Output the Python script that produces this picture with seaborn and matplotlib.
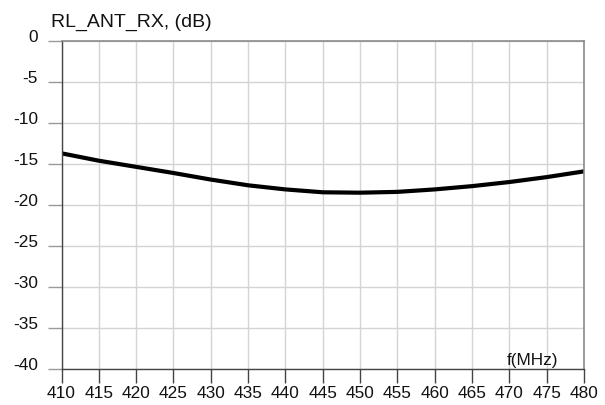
import matplotlib
matplotlib.use("Agg")
import matplotlib.pyplot as plt
from matplotlib.transforms import ScaledTranslation
import seaborn as sns
import pandas as pd

freq_mhz = [410, 415, 420, 425, 430, 435, 440, 445, 450, 455, 460, 465, 470, 475, 480]
rl_db = [-13.7, -14.6, -15.35, -16.1, -16.9, -17.6, -18.1, -18.45, -18.5, -18.4, -18.1, -17.7, -17.2, -16.6, -15.9]
x_ticks = list(range(410, 481, 5))
y_ticks = list(range(-40, 1, 5))
title = "RL_ANT_RX, (dB)"
x_unit = "f(MHz)"

sns.set_style("white")
plt.rcParams['font.family'] = ['Liberation Sans', 'DejaVu Sans']

df = pd.DataFrame({"f": freq_mhz, "rl": rl_db})

fig = plt.figure(figsize=(6.05, 4.05), dpi=100)
ax = fig.add_axes([0.1017, 0.0889, 0.8636, 0.8099])

sns.lineplot(data=df, x="f", y="rl", ax=ax, color="black", linewidth=3.0)

ax.set_xlim(410, 480)
ax.set_ylim(-40, 0)
ax.set_xticks(x_ticks)
ax.set_yticks(y_ticks)
ax.set_xticklabels([str(t) for t in x_ticks])
ax.set_yticklabels([str(t) for t in y_ticks])
ax.set_xlabel("")
ax.set_ylabel("")

ax.grid(True, color="#d4d4d4", linewidth=1.0)
ax.set_axisbelow(True)

for s in ["top", "right"]:
    ax.spines[s].set_color("#8a8a8a")
    ax.spines[s].set_linewidth(1.2)
for s in ["left", "bottom"]:
    ax.spines[s].set_color("#444444")
    ax.spines[s].set_linewidth(1.0)

ax.tick_params(axis="x", direction="out", length=10, width=1.0, color="#444444",
               labelsize=12.4, pad=2.5, labelcolor="#111111", bottom=True)
ax.tick_params(axis="y", direction="out", length=10, width=1.0, color="#9a9a9a",
               labelsize=12.4, pad=7, labelcolor="#111111", left=True)

offset = ScaledTranslation(0, 5 / 100, fig.dpi_scale_trans)
for lab in ax.get_yticklabels():
    lab.set_transform(lab.get_transform() + offset)

fig.text(51 / 605, 1 - 27 / 405, title, fontsize=14, color="#111111",
         ha="left", va="baseline")
ax.text(0.901, 0.012, x_unit, transform=ax.transAxes, fontsize=12.3,
        color="#111111", ha="center", va="baseline")

fig.savefig("out.png", dpi=100)
